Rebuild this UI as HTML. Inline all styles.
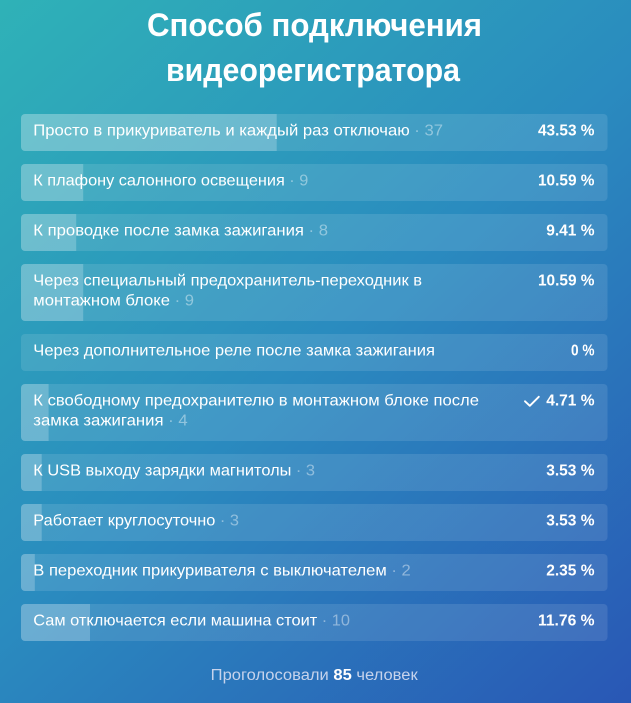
<!DOCTYPE html>
<html>
<head>
<meta charset="utf-8">
<style>
  html, body { margin: 0; padding: 0; width: 631px; height: 703px; overflow: hidden; }
  svg { display: block; }
  text { font-family: "Liberation Sans", "Noto Sans CJK JP", sans-serif; }
  .lbl { font-size: 16px; fill: #ffffff; }
  .cnt { fill: rgba(255,255,255,0.42); }
  .pct { font-size: 16px; font-weight: bold; fill: #ffffff; }
  .box { fill: rgba(255,255,255,0.11); }
  .bar { fill: rgba(255,255,255,0.22); }
</style>
</head>
<body>
<svg width="631" height="703" viewBox="0 0 631 703" xmlns="http://www.w3.org/2000/svg">
  <defs>
    <linearGradient id="bg" x1="0" y1="0" x2="631" y2="703" gradientUnits="userSpaceOnUse">
      <stop offset="0" stop-color="#2fb2b7"/>
      <stop offset="0.5" stop-color="#2a8bbf"/>
      <stop offset="1" stop-color="#2957b5"/>
    </linearGradient>
    <clipPath id="c1"><rect x="21" y="114" width="586.5" height="37" rx="4"/></clipPath>
    <clipPath id="c2"><rect x="21" y="164" width="586.5" height="37" rx="4"/></clipPath>
    <clipPath id="c3"><rect x="21" y="214" width="586.5" height="37" rx="4"/></clipPath>
    <clipPath id="c4"><rect x="21" y="264" width="586.5" height="57" rx="4"/></clipPath>
    <clipPath id="c6"><rect x="21" y="384" width="586.5" height="57" rx="4"/></clipPath>
    <clipPath id="c7"><rect x="21" y="454" width="586.5" height="37" rx="4"/></clipPath>
    <clipPath id="c8"><rect x="21" y="504" width="586.5" height="37" rx="4"/></clipPath>
    <clipPath id="c9"><rect x="21" y="554" width="586.5" height="37" rx="4"/></clipPath>
    <clipPath id="c10"><rect x="21" y="604" width="586.5" height="37" rx="4"/></clipPath>
  </defs>
  <rect x="0" y="0" width="631" height="703" fill="url(#bg)"/>

  <!-- Title -->
  <text x="147" y="36" font-size="32" font-weight="bold" fill="#ffffff" textLength="335" lengthAdjust="spacingAndGlyphs">Способ подключения</text>
  <text x="166" y="81" font-size="32" font-weight="bold" fill="#ffffff" textLength="294" lengthAdjust="spacingAndGlyphs">видеорегистратора</text>

  <!-- Row 1 -->
  <rect class="box" x="21" y="114" width="586.5" height="37" rx="4"/>
  <rect class="bar" x="21" y="114" width="255.7" height="37" clip-path="url(#c1)"/>
  <text class="lbl" x="33.3" y="135.7" textLength="409.7" lengthAdjust="spacingAndGlyphs">Просто в прикуриватель и каждый раз отключаю<tspan class="cnt"> · 37</tspan></text>
  <text class="pct" x="594.5" y="135.7" text-anchor="end" textLength="56.5" lengthAdjust="spacingAndGlyphs">43.53 %</text>

  <!-- Row 2 -->
  <rect class="box" x="21" y="164" width="586.5" height="37" rx="4"/>
  <rect class="bar" x="21" y="164" width="62.2" height="37" clip-path="url(#c2)"/>
  <text class="lbl" x="33.3" y="185.7" textLength="275" lengthAdjust="spacingAndGlyphs">К плафону салонного освещения<tspan class="cnt"> · 9</tspan></text>
  <text class="pct" x="594.5" y="185.7" text-anchor="end" textLength="56.5" lengthAdjust="spacingAndGlyphs">10.59 %</text>

  <!-- Row 3 -->
  <rect class="box" x="21" y="214" width="586.5" height="37" rx="4"/>
  <rect class="bar" x="21" y="214" width="55.2" height="37" clip-path="url(#c3)"/>
  <text class="lbl" x="33.3" y="235.7" textLength="294.7" lengthAdjust="spacingAndGlyphs">К проводке после замка зажигания<tspan class="cnt"> · 8</tspan></text>
  <text class="pct" x="594.5" y="235.7" text-anchor="end" textLength="48.3" lengthAdjust="spacingAndGlyphs">9.41 %</text>

  <!-- Row 4 -->
  <rect class="box" x="21" y="264" width="586.5" height="57" rx="4"/>
  <rect class="bar" x="21" y="264" width="62.2" height="57" clip-path="url(#c4)"/>
  <text class="lbl" x="33.3" y="285.7" textLength="388.7" lengthAdjust="spacingAndGlyphs">Через специальный предохранитель-переходник в</text>
  <text class="lbl" x="33.3" y="305.7" textLength="160.7" lengthAdjust="spacingAndGlyphs">монтажном блоке<tspan class="cnt"> · 9</tspan></text>
  <text class="pct" x="594.5" y="285.7" text-anchor="end" textLength="56.5" lengthAdjust="spacingAndGlyphs">10.59 %</text>

  <!-- Row 5 -->
  <rect class="box" x="21" y="334" width="586.5" height="37" rx="4"/>
  <text class="lbl" x="33.3" y="355.7" textLength="401.7" lengthAdjust="spacingAndGlyphs">Через дополнительное реле после замка зажигания</text>
  <text class="pct" x="594.5" y="355.7" text-anchor="end" textLength="23.5" lengthAdjust="spacingAndGlyphs">0 %</text>

  <!-- Row 6 -->
  <rect class="box" x="21" y="384" width="586.5" height="57" rx="4"/>
  <rect class="bar" x="21" y="384" width="27.6" height="57" clip-path="url(#c6)"/>
  <text class="lbl" x="33.3" y="405.7" textLength="445.7" lengthAdjust="spacingAndGlyphs">К свободному предохранителю в монтажном блоке после</text>
  <text class="lbl" x="33.3" y="425.7" textLength="154.4" lengthAdjust="spacingAndGlyphs">замка зажигания<tspan class="cnt"> · 4</tspan></text>
  <polyline points="525,401.3 529.8,405.8 538.8,396.8" fill="none" stroke="#ffffff" stroke-width="1.9" stroke-linecap="round" stroke-linejoin="round"/>
  <text class="pct" x="594.5" y="405.7" text-anchor="end" textLength="48.3" lengthAdjust="spacingAndGlyphs">4.71 %</text>

  <!-- Row 7 -->
  <rect class="box" x="21" y="454" width="586.5" height="37" rx="4"/>
  <rect class="bar" x="21" y="454" width="20.7" height="37" clip-path="url(#c7)"/>
  <text class="lbl" x="33.3" y="475.7" textLength="281.7" lengthAdjust="spacingAndGlyphs">К USB выходу зарядки магнитолы<tspan class="cnt"> · 3</tspan></text>
  <text class="pct" x="594.5" y="475.7" text-anchor="end" textLength="48.3" lengthAdjust="spacingAndGlyphs">3.53 %</text>

  <!-- Row 8 -->
  <rect class="box" x="21" y="504" width="586.5" height="37" rx="4"/>
  <rect class="bar" x="21" y="504" width="20.7" height="37" clip-path="url(#c8)"/>
  <text class="lbl" x="33.3" y="525.7" textLength="205.7" lengthAdjust="spacingAndGlyphs">Работает круглосуточно<tspan class="cnt"> · 3</tspan></text>
  <text class="pct" x="594.5" y="525.7" text-anchor="end" textLength="48.3" lengthAdjust="spacingAndGlyphs">3.53 %</text>

  <!-- Row 9 -->
  <rect class="box" x="21" y="554" width="586.5" height="37" rx="4"/>
  <rect class="bar" x="21" y="554" width="13.8" height="37" clip-path="url(#c9)"/>
  <text class="lbl" x="33.3" y="575.7" textLength="377.4" lengthAdjust="spacingAndGlyphs">В переходник прикуривателя с выключателем<tspan class="cnt"> · 2</tspan></text>
  <text class="pct" x="594.5" y="575.7" text-anchor="end" textLength="48.3" lengthAdjust="spacingAndGlyphs">2.35 %</text>

  <!-- Row 10 -->
  <rect class="box" x="21" y="604" width="586.5" height="37" rx="4"/>
  <rect class="bar" x="21" y="604" width="69" height="37" clip-path="url(#c10)"/>
  <text class="lbl" x="33.3" y="625.7" textLength="316.7" lengthAdjust="spacingAndGlyphs">Сам отключается если машина стоит<tspan class="cnt"> · 10</tspan></text>
  <text class="pct" x="594.5" y="625.7" text-anchor="end" textLength="56.5" lengthAdjust="spacingAndGlyphs">11.76 %</text>

  <!-- Footer -->
  <text x="210.7" y="680" font-size="15.5" fill="#c6d3ec" textLength="207" lengthAdjust="spacingAndGlyphs">Проголосовали <tspan font-weight="bold" fill="#ffffff">85</tspan> человек</text>
</svg>
</body>
</html>
